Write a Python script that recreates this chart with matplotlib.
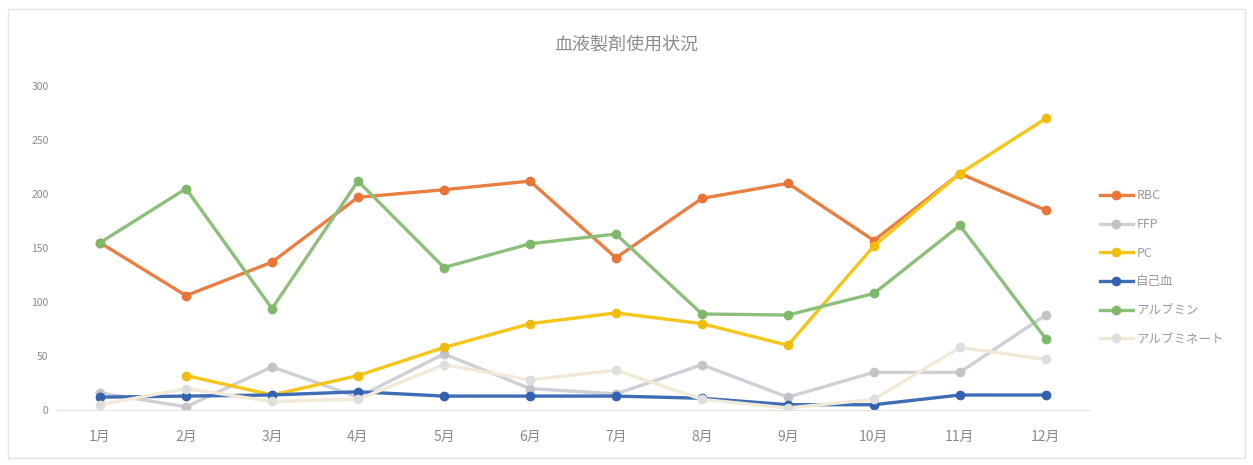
import numpy as np
import matplotlib
matplotlib.use('Agg')
import matplotlib.pyplot as plt

plt.rcParams['font.family'] = ['Noto Sans CJK JP', 'DejaVu Sans']

months = ['1月', '2月', '3月', '4月', '5月', '6月', '7月', '8月', '9月', '10月', '11月', '12月']
rbc = [155, 106, 137, 197, 204, 212, 141, 196, 210, 157, 219, 185]
ffp = [16, 3, 40, 12, 52, 20, 15, 42, 12, 35, 35, 88]
pc = [np.nan, 32, 14, 32, 58, 80, 90, 80, 60, 152, 219, 270]
jikoketsu = [12, 13, 14, 17, 13, 13, 13, 11, 5, 5, 14, 14]
albumin = [155, 205, 94, 212, 132, 154, 163, 89, 88, 108, 171, 66]
albuminate = [5, 20, 8, 10, 42, 28, 37, 10, 2, 10, 58, 47]

series = [
    ('RBC', rbc, '#EB7F43', '#E8743A'),
    ('FFP', ffp, '#CFCFD8', '#C4C4C8'),
    ('PC', pc, '#F5C518', '#EFBC10'),
    ('自己血', jikoketsu, '#3E6DB5', '#3462AE'),
    ('アルブミン', albumin, '#8CC07A', '#7FB86A'),
    ('アルブミネート', albuminate, '#F2EAD6', '#DEDEDE'),
]

fig = plt.figure(figsize=(12.53, 4.65), dpi=100)
ax = fig.add_axes([0.0455, 0.118, 0.8235, 0.697])

x = np.arange(len(months))
for name, vals, col, mcol in series:
    ax.plot(x, vals, color=col, linewidth=2.4, marker='o', markersize=6,
            markerfacecolor=mcol, markeredgecolor=mcol, label=name)

ax.set_xlim(-0.5, 11.5)
ax.set_ylim(0, 300)
ax.set_yticks(range(0, 301, 50))
ax.set_xticks(x)
ax.set_xticklabels(months)
ax.tick_params(axis='y', length=0, labelsize=7.5, colors='#8A8A8A', pad=6)
ax.tick_params(axis='x', length=0, labelsize=10, colors='#8A8A8A', pad=14)
for s in ['top', 'right', 'left']:
    ax.spines[s].set_visible(False)
ax.spines['bottom'].set_color('#E2E2E2')

fig.text(0.5, 0.905, '血液製剤使用状況', ha='center', va='center', fontsize=13, color='#8C8C8C')

leg = ax.legend(loc='center left', bbox_to_anchor=(1.0, 0.44), frameon=False,
                fontsize=9, labelcolor='#9A9A9A', handlelength=2.6,
                labelspacing=1.25, handletextpad=0.3)

border = plt.Rectangle((0.006, 0.015), 0.988, 0.965, transform=fig.transFigure,
                       fill=False, edgecolor='#E4E4E4', linewidth=1)
fig.patches.append(border)

fig.savefig('out.png', dpi=100)
